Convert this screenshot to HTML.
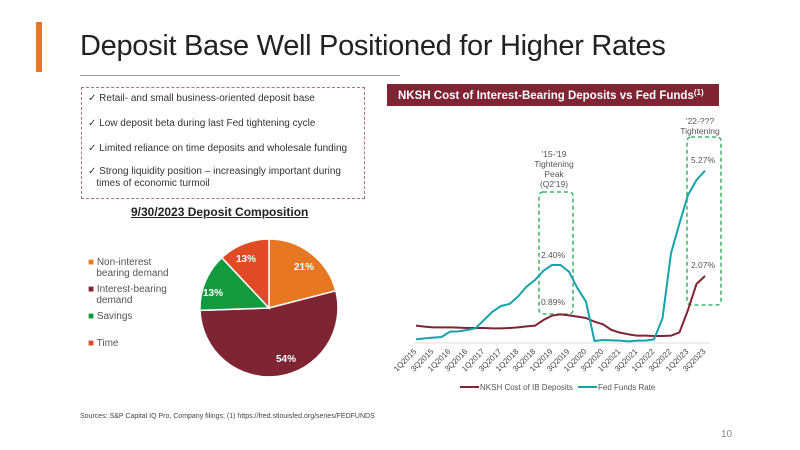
<!DOCTYPE html>
<html><head><meta charset="utf-8"><style>
body{margin:0;width:800px;height:450px;background:#fff;font-family:"Liberation Sans",sans-serif;position:relative;overflow:hidden}
.a{position:absolute;white-space:nowrap}
</style></head><body>
<div class="a" style="left:36px;top:22px;width:6px;height:50px;background:#e87722"></div>
<div class="a" style="left:80px;top:30px;font-size:29px;color:#222;font-weight:300;letter-spacing:-0.3px">Deposit Base Well Positioned for Higher Rates</div>
<div class="a" style="left:80px;top:75px;width:320px;height:1px;background:#999"></div>
<div class="a" style="left:81px;top:87px;width:282px;height:110px;border:1px dashed #b07080"></div>
<div class="a" style="left:88px;top:92px;font-size:10px;color:#333;line-height:13px">✓ Retail- and small business-oriented deposit base</div>
<div class="a" style="left:88px;top:117px;font-size:10px;color:#333;line-height:13px">✓ Low deposit beta during last Fed tightening cycle</div>
<div class="a" style="left:88px;top:142px;font-size:10px;color:#333;line-height:13px">✓ Limited reliance on time deposits and wholesale funding</div>
<div class="a" style="left:88px;top:166px;font-size:10px;color:#333;line-height:12px">✓ Strong liquidity position – increasingly important during<br>&nbsp;&nbsp;&nbsp;times of economic turmoil</div>
<div class="a" style="left:131px;top:205px;font-size:12px;font-weight:bold;color:#222;text-decoration:underline">9/30/2023 Deposit Composition</div>
<div class="a" style="left:88px;top:257px;font-size:10px;color:#555;line-height:11px"><span style="color:#e87722">■</span> Non-interest<br>&nbsp;&nbsp;&nbsp;bearing demand</div>
<div class="a" style="left:88px;top:284px;font-size:10px;color:#555;line-height:11px"><span style="color:#7f2432">■</span> Interest-bearing<br>&nbsp;&nbsp;&nbsp;demand</div>
<div class="a" style="left:88px;top:311px;font-size:10px;color:#555"><span style="color:#149a3e">■</span> Savings</div>
<div class="a" style="left:88px;top:338px;font-size:10px;color:#555"><span style="color:#e04a25">■</span> Time</div>
<svg class="a" style="left:0;top:0" width="800" height="450">
<g stroke="#fff" stroke-width="1.5">
<path d="M269,308 L269,239 A69,69 0 0 1 335.8,290.8 Z" fill="#e87722"/>
<path d="M269,308 L335.8,290.8 A69,69 0 1 1 200,310.4 Z" fill="#7f2432"/>
<path d="M269,308 L200,310.4 A69,69 0 0 1 221.8,257.7 Z" fill="#149a3e"/>
<path d="M269,308 L221.8,257.7 A69,69 0 0 1 269,239 Z" fill="#e04a25"/>
</g>
<g fill="#fff" font-size="10" font-weight="bold" font-family="Liberation Sans">
<text x="294" y="270">21%</text><text x="236" y="262">13%</text><text x="203" y="296">13%</text><text x="276" y="362">54%</text>
</g>
<rect x="387" y="84" width="332" height="22" fill="#7f2432"/>
<text x="398" y="99" fill="#fff" font-size="11.5" font-weight="bold">NKSH Cost of Interest-Bearing Deposits vs Fed Funds<tspan font-size="8" dy="-4">(1)</tspan></text>
<line x1="414" y1="343" x2="710" y2="343" stroke="#ddd"/>
<g fill="none" stroke="#1fa84a" stroke-width="1.3" stroke-dasharray="4,3">
<rect x="539" y="192" width="34" height="122" rx="4"/>
<rect x="687" y="137" width="34" height="168" rx="4"/>
</g>
<g transform="translate(380,80) scale(0.33333)" fill="none" stroke-width="6" stroke-linejoin="round">
<polyline stroke="#7f2432" points="108,737 133.5,740 159,742 184.5,742 210,742 235.5,743 261,744 286.5,744 312,744 337.5,745 363,745 388.5,744 414,742 439.5,739 465,737 490.5,720 516,707 541.5,703 567,706 592.5,710 618,714 643.5,725 669,733 694.5,750 720,758 745.5,763 771,767 796.5,767 822,768 847.5,768 873,767 898.5,757 924,690 949.5,612 975,588"/>
<polyline stroke="#16a3a8" points="108,778 133.5,775 159,773 184.5,771 210,755 235.5,754 261,750 286.5,745 312,720 337.5,695 363,678 388.5,672 414,650 439.5,620 465,600 490.5,572 516,555 541.5,555 567,575 592.5,625 618,665 643.5,783 669,780 694.5,781 720,782 745.5,784 771,782 796.5,782 822,778 847.5,715 873,520 898.5,430 924,345 949.5,300 975,272"/>
</g>
<g font-size="8.5" fill="#555" text-anchor="middle">
<text x="554" y="157">'15-'19</text><text x="554" y="167">Tightening</text><text x="554" y="177">Peak</text><text x="554" y="187">(Q2'19)</text>
<text x="553" y="258">2.40%</text><text x="553" y="305">0.89%</text>
<text x="700" y="124">'22-???</text><text x="700" y="134">Tightening</text>
<text x="703" y="163">5.27%</text><text x="703" y="268">2.07%</text>
</g>
<g font-size="8" fill="#444" text-anchor="end">
<text transform="translate(417,352) rotate(-45)">1Q2015</text>
<text transform="translate(434,352) rotate(-45)">3Q2015</text>
<text transform="translate(451,352) rotate(-45)">1Q2016</text>
<text transform="translate(468,352) rotate(-45)">3Q2016</text>
<text transform="translate(485,352) rotate(-45)">1Q2017</text>
<text transform="translate(502,352) rotate(-45)">3Q2017</text>
<text transform="translate(519,352) rotate(-45)">1Q2018</text>
<text transform="translate(536,352) rotate(-45)">3Q2018</text>
<text transform="translate(553,352) rotate(-45)">1Q2019</text>
<text transform="translate(570,352) rotate(-45)">3Q2019</text>
<text transform="translate(587,352) rotate(-45)">1Q2020</text>
<text transform="translate(604,352) rotate(-45)">3Q2020</text>
<text transform="translate(621,352) rotate(-45)">1Q2021</text>
<text transform="translate(638,352) rotate(-45)">3Q2021</text>
<text transform="translate(655,352) rotate(-45)">1Q2022</text>
<text transform="translate(672,352) rotate(-45)">3Q2022</text>
<text transform="translate(689,352) rotate(-45)">1Q2023</text>
<text transform="translate(706,352) rotate(-45)">3Q2023</text>
</g>
<line x1="460" y1="387" x2="479" y2="387" stroke="#7f2432" stroke-width="2"/>
<text x="480" y="390" font-size="8" fill="#555">NKSH Cost of IB Deposits</text>
<line x1="578" y1="387" x2="597" y2="387" stroke="#16a3a8" stroke-width="2"/>
<text x="598" y="390" font-size="8" fill="#555">Fed Funds Rate</text>
<text x="80" y="418" font-size="7" fill="#444">Sources: S&amp;P Capital IQ Pro, Company filings; (1) https://fred.stlouisfed.org/series/FEDFUNDS</text>
<text x="721" y="437" font-size="10" fill="#888">10</text>
</svg>
</body></html>
